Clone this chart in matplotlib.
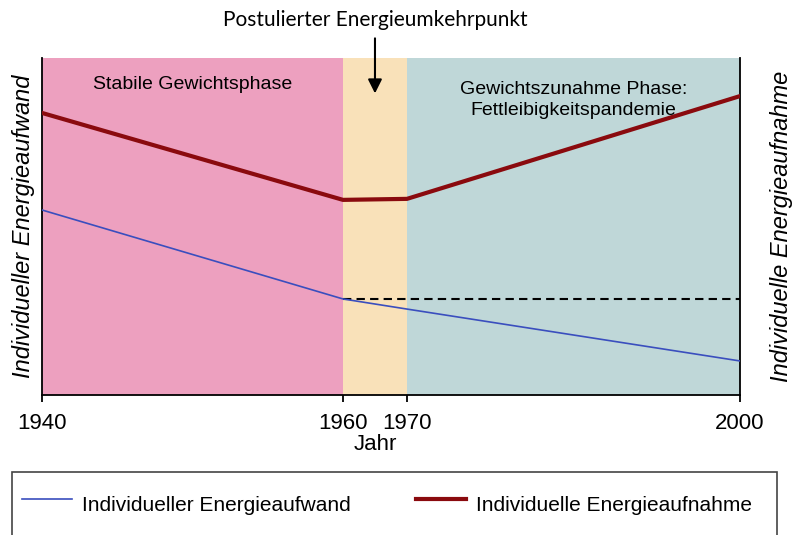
import numpy as np
import matplotlib.pyplot as plt
from matplotlib.patches import Rectangle
from matplotlib.transforms import blended_transform_factory

plt.rcParams['font.family'] = ['Liberation Sans', 'DejaVu Sans']

# data (y in arbitrary units 0..100)
years = [1940, 1960, 1970, 2000]
energieaufwand = [54.9, 28.5, 25.5, 10.1]
energieaufnahme = [83.7, 57.9, 58.2, 88.7]
plateau_start, plateau_end = 1960, 2000
plateau_value = 28.5

phase_bounds = [1940, 1960, 1970, 2000]
phase_labels = ["Stabile Gewichtsphase", "", "Gewichtszunahme Phase:\nFettleibigkeitspandemie"]
phase_label_years = [1950, None, 1985]
wendepunkt_year = 1965

# the x axis is not linear in the original figure: piecewise scale
scale_years = [1940, 1960, 1970, 2000]
scale_frac = [0.0, 0.4312, 0.5229, 1.0]


def fwd(x):
    return np.interp(x, scale_years, scale_frac)


def inv(f):
    return np.interp(f, scale_frac, scale_years)


fig = plt.figure(figsize=(7.93, 5.35), dpi=100)
ax = fig.add_axes([42 / 793, 140 / 535, 698 / 793, 337 / 535])
ax.set_xscale('function', functions=(fwd, inv))
ax.set_xlim(1940, 2000)
ax.set_ylim(0, 100)

# background phases
phase_colors = ["#EDA0BF", "#F9E1B9", "#BFD7D8"]
for i in range(3):
    ax.axvspan(phase_bounds[i], phase_bounds[i + 1], color=phase_colors[i], lw=0, zorder=0)

ax.plot([plateau_start, plateau_end], [plateau_value, plateau_value],
        color="black", lw=1.5, dashes=(4, 2.5), zorder=2)
l1, = ax.plot(years, energieaufwand, color="#3A4EBE", lw=1.2, zorder=3,
              label="Individueller Energieaufwand")
l2, = ax.plot(years, energieaufnahme, color="#8A0A0E", lw=3.0, zorder=3,
              label="Individuelle Energieaufnahme")

# phase labels
ax.text(phase_label_years[0], 92.0, phase_labels[0], ha="center", va="center", fontsize=14)
ax.text(phase_label_years[2], 87.5, phase_labels[2], ha="center", va="center",
        fontsize=14, linespacing=1.25)

# spines / ticks
ax.spines["top"].set_visible(False)
for s in ["left", "right", "bottom"]:
    ax.spines[s].set_linewidth(1.3)
ax.set_yticks([])
ax.set_xticks(years)
ax.set_xticklabels([str(y) for y in years], fontsize=16)
ax.tick_params(axis="x", length=5, width=1.3, pad=8)

# axis labels
ax.set_ylabel("Individueller Energieaufwand", fontsize=17, style="italic", labelpad=5)
ax2 = ax.twinx()
ax2.set_yticks([])
ax2.set_ylabel("Individuelle Energieaufnahme", fontsize=17, style="italic", labelpad=21.5)
for s in ax2.spines.values():
    s.set_visible(False)

trans = blended_transform_factory(ax.transData, fig.transFigure)
ax.text(wendepunkt_year, 1 - 444 / 535, "Jahr", transform=trans, ha="center",
        va="center", fontsize=16)

# annotation with arrow
ax.annotate("Postulierter Energieumkehrpunkt", xy=(wendepunkt_year, 89.5), xycoords="data",
            xytext=(wendepunkt_year, 1 - 20 / 535), textcoords=trans,
            ha="center", va="center", fontsize=15, family=["Lato", "DejaVu Sans"],
            arrowprops=dict(arrowstyle="-|>,head_length=0.6,head_width=0.3",
                            color="black", lw=1.5, mutation_scale=14,
                            shrinkA=4, shrinkB=0))

# legend (frame runs off the bottom edge like in the original)
fig.patches.append(Rectangle((12 / 793, 1 - 472 / 535 - 0.3), 765 / 793, 0.3,
                             transform=fig.transFigure, fill=False,
                             edgecolor="#444444", linewidth=1.2))
leg = fig.legend(handles=[l1, l2], loc="upper left", ncol=2,
                 bbox_to_anchor=(12 / 793, 1 - 478 / 535),
                 borderaxespad=0, fontsize=15, frameon=False, handlelength=2.4,
                 handleheight=2.0, borderpad=0.48, handletextpad=0.5,
                 columnspacing=3.1)

fig.savefig("out.png", dpi=100)
